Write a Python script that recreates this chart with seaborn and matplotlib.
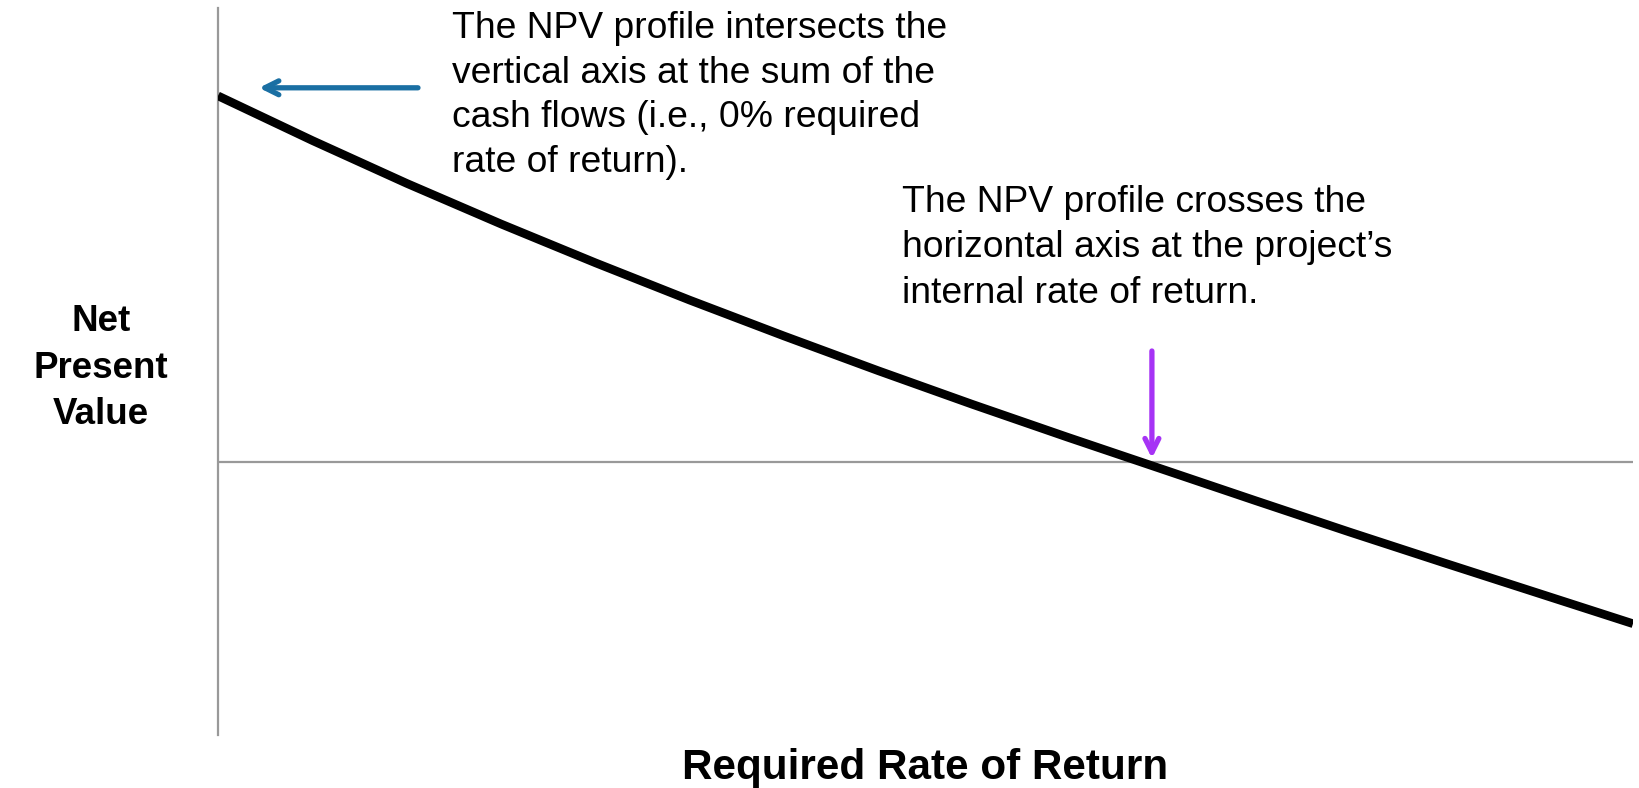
import numpy as np
import pandas as pd
import matplotlib
matplotlib.use("Agg")
import matplotlib.pyplot as plt
import seaborn as sns

# NPV profile (rate in %, NPV in arbitrary units)
rates = [0, 2, 4, 6, 8, 10, 12, 14, 16, 18, 20, 22, 24, 26, 28, 30]
npv = [100, 87.8, 76.1, 65.0, 54.4, 44.2, 34.4, 24.9, 15.7, 6.8, -1.9, -10.6,
       -19.2, -27.6, -35.9, -44.2]

note_left = ("The NPV profile intersects the\nvertical axis at the sum of the\n"
             "cash flows (i.e., 0% required\nrate of return).")
note_right = ("The NPV profile crosses the\nhorizontal axis at the project\u2019s\n"
              "internal rate of return.")
x_label = "Required Rate of Return"
y_label = "Net\nPresent\nValue"

sns.set_style("white")
plt.rcParams['font.family'] = ['Liberation Sans', 'DejaVu Sans']
plt.rcParams['text.color'] = 'black'

df = pd.DataFrame({"rate": rates, "npv": npv})

fig = plt.figure(figsize=(16.4, 7.88), dpi=100)
ax = fig.add_axes([218 / 1640, 1 - 735 / 788, (1633 - 218) / 1640, (735 - 8) / 788])

sns.lineplot(data=df, x="rate", y="npv", color="black", linewidth=6.2, ax=ax,
             solid_capstyle="butt", solid_joinstyle="round", zorder=3)

ax.set_xlim(0, 30)
ax.set_ylim(-74.6, 124)
ax.axhline(0, color="#999999", linewidth=1.6, zorder=1)
for s in ["top", "right", "bottom"]:
    ax.spines[s].set_visible(False)
ax.spines["left"].set_color("#999999")
ax.spines["left"].set_linewidth(1.6)
ax.set_xticks([])
ax.set_yticks([])
ax.set_xlabel("")
ax.set_ylabel("")

# arrows
ax.annotate("", xy=(0.87, 102.2), xytext=(4.24, 102.2),
            arrowprops=dict(arrowstyle="->,head_length=1.0,head_width=0.5",
                            color="#1a6fa3", lw=3.8, shrinkA=0, shrinkB=0))
ax.annotate("", xy=(19.8, 1.0), xytext=(19.8, 30.3),
            arrowprops=dict(arrowstyle="->,head_length=1.0,head_width=0.5",
                            color="#a633f5", lw=3.8, shrinkA=0, shrinkB=0))

fig.text(452 / 1640, 1 - 11 / 788, note_left, fontsize=26.8, va="top", ha="left",
         linespacing=1.36)
fig.text(902 / 1640, 1 - 185 / 788, note_right, fontsize=26.8, va="top", ha="left",
         linespacing=1.38)
fig.text(101 / 1640, 1 - 368 / 788, y_label, fontsize=26.5, fontweight="bold",
         ha="center", va="center", linespacing=1.42)
fig.text(925 / 1640, 1 - 779 / 788, x_label, fontsize=30.4, fontweight="bold",
         ha="center", va="baseline")

fig.savefig("out.png", dpi=100)
